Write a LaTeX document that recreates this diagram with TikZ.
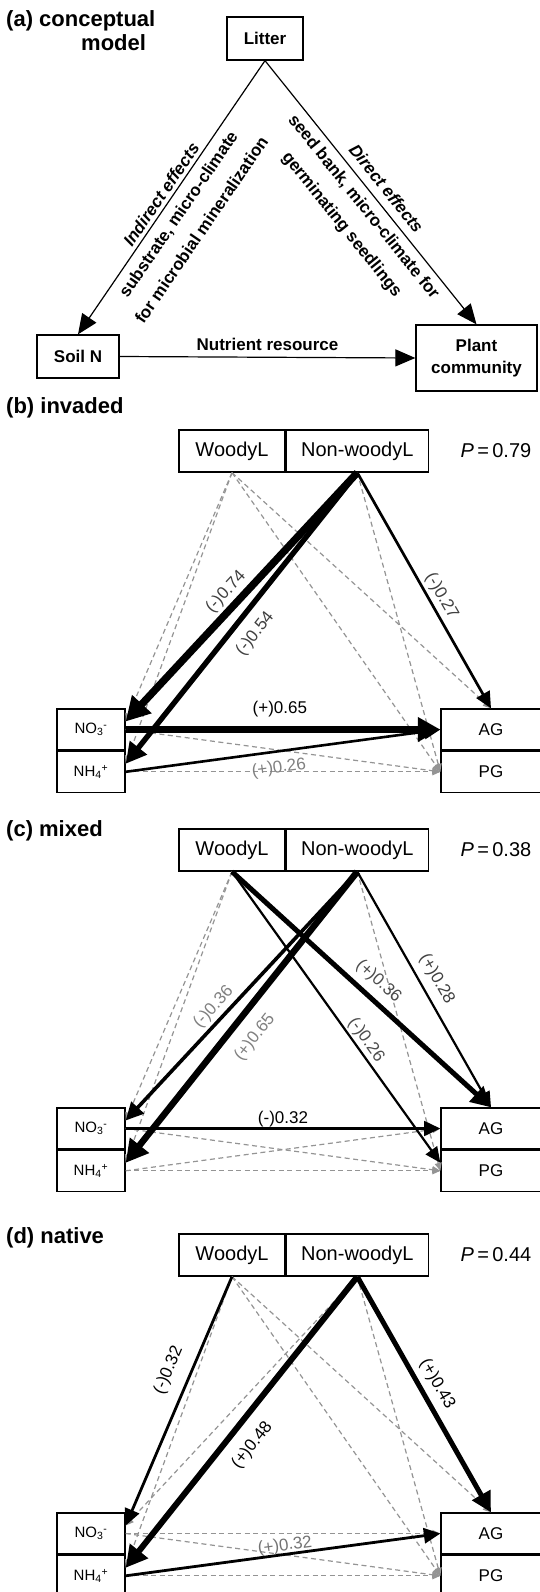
\documentclass[tikz,border=0pt]{standalone}
\usepackage{fontspec}
\setmainfont{Liberation Sans}
\usepackage{tikz}
\usetikzlibrary{arrows.meta, positioning}

\newcommand{\ttlfont}{\fontsize{22}{24}\selectfont\bfseries}
\newcommand{\afont}{\fontsize{17}{22}\selectfont\bfseries}
\newcommand{\alblfont}{\fontsize{17}{28}\selectfont\bfseries}
\newcommand{\boxfont}{\fontsize{20}{22}\selectfont}
\newcommand{\rfont}{\fontsize{17}{20}\selectfont}
\newcommand{\smfont}{\fontsize{15}{18}\selectfont}
\newcommand{\lblfont}{\fontsize{17}{20}\selectfont}

\tikzset{
    ttl/.style={inner sep=0pt, font=\ttlfont},
    abox/.style={rectangle, draw=black, line width=1.3pt, inner sep=0pt, font=\afont},
    lbox/.style={rectangle, draw=black, line width=1.3pt, inner sep=0pt, minimum height=42pt, font=\boxfont},
    rbox/.style={rectangle, draw=black, line width=1.3pt, inner sep=0pt, minimum height=41pt, font=\smfont},
    carrow/.style={line width=1.2pt, -{Triangle[length=20pt, width=17pt]}},
    alabel/.style={font=\alblfont, sloped, align=center, inner sep=2pt},
    sig/.style={black, line width=#1, -{Triangle[length=12pt 1.6, width=9pt 2.2]}},
    ns/.style={black!42, line width=1.2pt, dash pattern=on 5pt off 3.5pt, -{Triangle[length=8pt, width=7pt]}},
    elbl/.style={font=\lblfont, sloped, inner sep=2pt}
}

\begin{document}
\begin{tikzpicture}[x=1pt, y=-1pt]
    \useasboundingbox (0,0) rectangle (539,1592);

    % (a) conceptual model
    \node (Ta) [ttl, anchor=north west, align=left] at (6,10) {(a) conceptual\\\hspace*{75pt}model};
    \node (litter) [abox, minimum width=76pt, minimum height=43pt] at (265,38.5) {Litter};
    \node (soiln) [abox, minimum width=82pt, minimum height=43pt] at (78,356.5) {Soil N};
    \node (plant) [abox, minimum width=121pt, minimum height=66pt, align=center] at (476.5,358) {Plant\\community};

    \draw [carrow] (litter.south) --
        node[alabel, above=1.5pt, pos=0.51] {\textit{Indirect effects}}
        node[alabel, below=6pt, pos=0.53] {substrate, micro-climate\\for microbial mineralization} (soiln.north);
    \draw [carrow] (litter.south) --
        node[alabel, above=6pt, pos=0.52] {\textit{Direct effects}}
        node[alabel, below=4.5pt, pos=0.52] {seed bank, micro-climate for\\germinating seedlings} (plant.north);
    \draw [carrow] (soiln.east) -- node[font=\afont, above=3pt] {Nutrient resource} (plant.west);

    % panels (b)-(d): boxes
    \foreach \p/\y/\ty/\nm/\pv in {b/430/408/invaded/0.79, c/829/831/mixed/0.38, d/1234/1238/native/0.44} {
        \node (T\p) [ttl, anchor=west] at (6,\ty) {(\p) \nm};
        \node (W\p) [lbox, minimum width=106pt] at (232,\y+21) {WoodyL};
        \node (N\p) [lbox, minimum width=142pt, right=0pt of W\p] {Non-woodyL};
        \node (P\p) [font=\boxfont] at (496,\y+21) {\textit{P}\,=\,\pv};
        \node (no\p) [rbox, minimum width=68pt] at (91,\y+299.5) {NO\textsubscript{3}\textsuperscript{-}};
        \node (nh\p) [rbox, minimum width=68pt, below=0pt of no\p] {NH\textsubscript{4}\textsuperscript{+}};
        \node (ag\p) [rbox, minimum width=100pt, font=\rfont] at (491,\y+299.5) {AG};
        \node (pg\p) [rbox, minimum width=100pt, font=\rfont, below=0pt of ag\p] {PG};
    }

    % (b) invaded
    \draw [ns] (Wb.south) -- ([yshift=8pt]nob.east);
    \draw [ns] (Wb.south) -- ([yshift=8pt]nhb.east);
    \draw [ns] (Wb.south) -- (agb.north);
    \draw [ns] (Wb.south) -- (pgb.west);
    \draw [ns] (Nb.south) -- (pgb.west);
    \draw [ns] (nob.east) -- (pgb.west);
    \draw [ns] (nhb.east) -- (pgb.west);
    \draw [sig=7.4pt] (Nb.south) -- node[elbl, above=1pt, pos=0.52, text=black!75] {(-)0.74} ([yshift=8pt]nob.east);
    \draw [sig=5.4pt] (Nb.south) -- node[elbl, below=8pt, pos=0.51, text=black!75] {(-)0.54} ([yshift=8pt]nhb.east);
    \draw [sig=2.7pt] (Nb.south) -- node[elbl, above=1pt, pos=0.55, text=black!75] {(-)0.27} (agb.north);
    \draw [sig=6.5pt] (nob.east) -- node[elbl, above=7pt, pos=0.49] {(+)0.65} (agb.west);
    \draw [sig=2.6pt] (nhb.east) -- node[elbl, below=5.5pt, pos=0.48, text=black!50] {(+)0.26} (agb.west);

    % (c) mixed
    \draw [ns] (Wc.south) -- ([yshift=8pt]noc.east);
    \draw [ns] (Wc.south) -- ([yshift=8pt]nhc.east);
    \draw [ns] (Nc.south) -- (pgc.west);
    \draw [ns] (noc.east) -- (pgc.west);
    \draw [ns] (nhc.east) -- (agc.west);
    \draw [ns] (nhc.east) -- (pgc.west);
    \draw [sig=3.6pt] (Nc.south) -- node[elbl, above=1pt, pos=0.58, text=black!50] {(-)0.36} ([yshift=8pt]noc.east);
    \draw [sig=6.5pt] (Nc.south) -- node[elbl, below=10pt, pos=0.52, text=black!50] {(+)0.65} ([yshift=8pt]nhc.east);
    \draw [sig=5pt] (Wc.south) -- node[elbl, above=5pt, pos=0.52, text=black!70] {(+)0.36} (agc.north);
    \draw [sig=2.2pt] (Nc.south) -- node[elbl, above=5pt, pos=0.49, text=black!75] {(+)0.28} (agc.north);
    \draw [sig=2.2pt] (Wc.south) -- node[elbl, above=0pt, pos=0.6, text=black!70] {(-)0.26} ([yshift=8pt]pgc.west);
    \draw [sig=2.6pt] (noc.east) -- node[elbl, above=-2pt, pos=0.5] {(-)0.32} (agc.west);

    % (d) native
    \draw [ns] (Wd.south) -- ([yshift=8pt]nhd.east);
    \draw [ns] (Wd.south) -- (agd.north);
    \draw [ns] (Wd.south) -- (pgd.west);
    \draw [ns] (Nd.south) -- ([yshift=8pt]nod.east);
    \draw [ns] (Nd.south) -- (pgd.west);
    \draw [ns] (nod.east) -- (agd.west);
    \draw [ns] (nod.east) -- (pgd.west);
    \draw [ns] (nhd.east) -- (pgd.west);
    \draw [sig=2.8pt] (Wd.south) -- node[elbl, above=10pt, pos=0.41] {(-)0.32} ([yshift=8pt]nod.east);
    \draw [sig=6pt] (Nd.south) -- node[elbl, below=10pt, pos=0.53] {(+)0.48} ([yshift=8pt]nhd.east);
    \draw [sig=5pt] (Nd.south) -- node[elbl, above=4pt, pos=0.49] {(+)0.43} (agd.north);
    \draw [sig=2.8pt] (nhd.east) -- node[elbl, above=-3pt, pos=0.51, text=black!55] {(+)0.32} (agd.west);
\end{tikzpicture}
\end{document}
